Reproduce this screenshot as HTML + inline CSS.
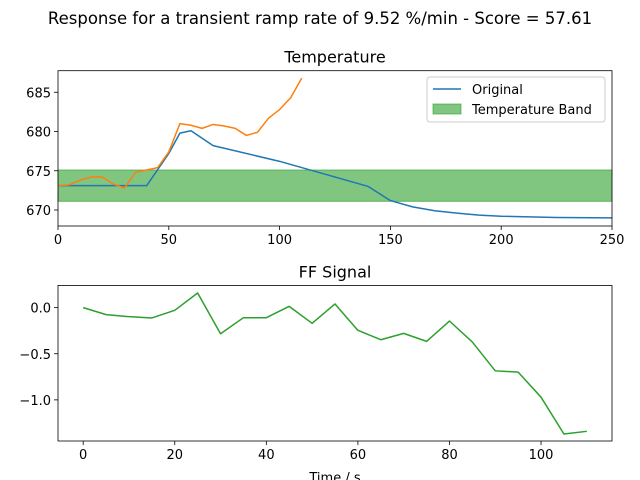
<!DOCTYPE html>
<html><head><meta charset="utf-8"><style>
body{margin:0;background:#fff;}
svg{display:block;font-family:"DejaVu Sans","Liberation Sans",sans-serif;}
</style></head><body>
<svg id="fig" width="640" height="480" viewBox="0 0 640 480" xmlns="http://www.w3.org/2000/svg">
<rect width="640" height="480" fill="#fff"/>
<text x="320" y="24" font-size="16.5" text-anchor="middle">Response for a transient ramp rate of 9.52 %/min - Score = 57.61</text>
<g id="topChart"></g>
<g id="botChart"></g>
</svg>
<script>
const tempTimeOrig = [0,5,10,15,20,25,30,35,40,50,55,60,70,100,140,150,160,170,180,190,200,225,250];
const tempOrig = [673.1,673.1,673.1,673.1,673.1,673.1,673.1,673.1,673.1,677.2,679.8,680.1,678.2,676.2,673.0,671.2,670.4,669.9,669.6,669.35,669.2,669.05,669.0];
const tempTimeResp = [0,5,10,15,20,25,30,35,40,45,50,55,60,65,70,75,80,85,90,95,100,105,110];
const tempResp = [673.1,673.2,673.8,674.2,674.2,673.3,672.8,674.8,675.1,675.4,677.4,681.0,680.8,680.4,680.9,680.7,680.4,679.5,679.9,681.7,682.8,684.3,686.8];
const bandRange = [671.1,675.1];
const topXTicks = [0,50,100,150,200,250];
const topYTicks = [670,675,680,685];
const ffTime = [0,5,10,15,20,25,30,35,40,45,50,55,60,65,70,75,80,85,90,95,100,105,110];
const ffSignal = [0.0,-0.076,-0.098,-0.112,-0.029,0.159,-0.283,-0.109,-0.109,0.014,-0.170,0.040,-0.246,-0.348,-0.279,-0.366,-0.145,-0.373,-0.685,-0.699,-0.971,-1.370,-1.341];
const botXTicks = [0,20,40,60,80,100];
const botYTicks = [0.0,-0.5,-1.0];
const botYLabels = ["0.0","\u22120.5","\u22121.0"];

const NS="http://www.w3.org/2000/svg";
function mk(p,t,a){const e=document.createElementNS(NS,t);for(const k in a)e.setAttribute(k,a[k]);p.appendChild(e);return e;}

function axes(g,L,R,T,B,x0,x1,y0,y1,xt,yt,ylab,title){
  const sx=v=>L+(v-x0)/(x1-x0)*(R-L), sy=v=>B-(v-y0)/(y1-y0)*(B-T);
  const t=mk(g,'text',{x:(L+R)/2,y:T-8,'font-size':16,'text-anchor':'middle'});t.textContent=title;
  
  
  xt.forEach(v=>{mk(g,'line',{x1:sx(v),x2:sx(v),y1:B,y2:B+4,stroke:'#000','stroke-width':0.8});
    const l=mk(g,'text',{x:sx(v),y:B+18,'font-size':13,'text-anchor':'middle'});l.textContent=v;
    
    });
  yt.forEach((v,i)=>{mk(g,'line',{x1:L-4,x2:L,y1:sy(v),y2:sy(v),stroke:'#000','stroke-width':0.8});
    const l=mk(g,'text',{x:L-7,y:sy(v)+5,'font-size':13,'text-anchor':'end'});l.textContent=ylab?ylab[i]:v;
    
    });
  return [sx,sy];
}
function line(g,xs,ys,sx,sy,c,name){
  const p=mk(g,'polyline',{points:xs.map((x,i)=>sx(x)+','+sy(ys[i])).join(' '),fill:'none',stroke:c,'stroke-width':1.5,'stroke-linejoin':'round'});
  
  
}
(function(){
const tg0=document.getElementById('topChart');
const TL=58,TR=612,TT=70.7,TB=226;
let [sx,sy]=axes(tg0,TL,TR,TT,TB,0,250,667.96,687.75,topXTicks,topYTicks,null,'Temperature');
const band=mk(tg0,'rect',{x:TL,y:sy(bandRange[1]),width:TR-TL,height:sy(bandRange[0])-sy(bandRange[1]),fill:'#2ca02c','fill-opacity':0.6,stroke:'#2ca02c','stroke-opacity':0.6});


const cp=mk(tg0,'clipPath',{id:'ct'});mk(cp,'rect',{x:TL,y:TT,width:TR-TL,height:TB-TT});
const tg=mk(tg0,'g',{'clip-path':'url(#ct)'});
line(tg,tempTimeOrig,tempOrig,sx,sy,'#1f77b4','original-line');
line(tg,tempTimeResp,tempResp,sx,sy,'#ff7f0e','response-line');
mk(tg0,'rect',{x:TL,y:TT,width:TR-TL,height:TB-TT,fill:'none',stroke:'#000','stroke-width':0.8});
const lg=mk(tg0,'g',{});


mk(lg,'rect',{x:427,y:77,width:178,height:45,rx:3,fill:'#fff','fill-opacity':0.8,stroke:'#ccc'});
mk(lg,'line',{x1:433,x2:461,y1:89,y2:89,stroke:'#1f77b4','stroke-width':1.5});
let tx=mk(lg,'text',{x:472,y:94,'font-size':13});tx.textContent='Original';
mk(lg,'rect',{x:433,y:104,width:28,height:10,fill:'#2ca02c','fill-opacity':0.6,stroke:'#2ca02c','stroke-opacity':0.6});
tx=mk(lg,'text',{x:472,y:114,'font-size':13});tx.textContent='Temperature Band';

const bg=document.getElementById('botChart');
const BL=58,BR=612,BT=285.5,BB=441;
[sx,sy]=axes(bg,BL,BR,BT,BB,-5.5,115.5,-1.446,0.24,botXTicks,botYTicks,botYLabels,'FF Signal');
line(bg,ffTime,ffSignal,sx,sy,'#2ca02c','ff-signal-line');
mk(bg,'rect',{x:BL,y:BT,width:BR-BL,height:BB-BT,fill:'none',stroke:'#000','stroke-width':0.8});
const xl=mk(bg,'text',{x:335,y:482,'font-size':13,'text-anchor':'middle'});xl.textContent='Time / s';


})();
</script>
</body></html>
